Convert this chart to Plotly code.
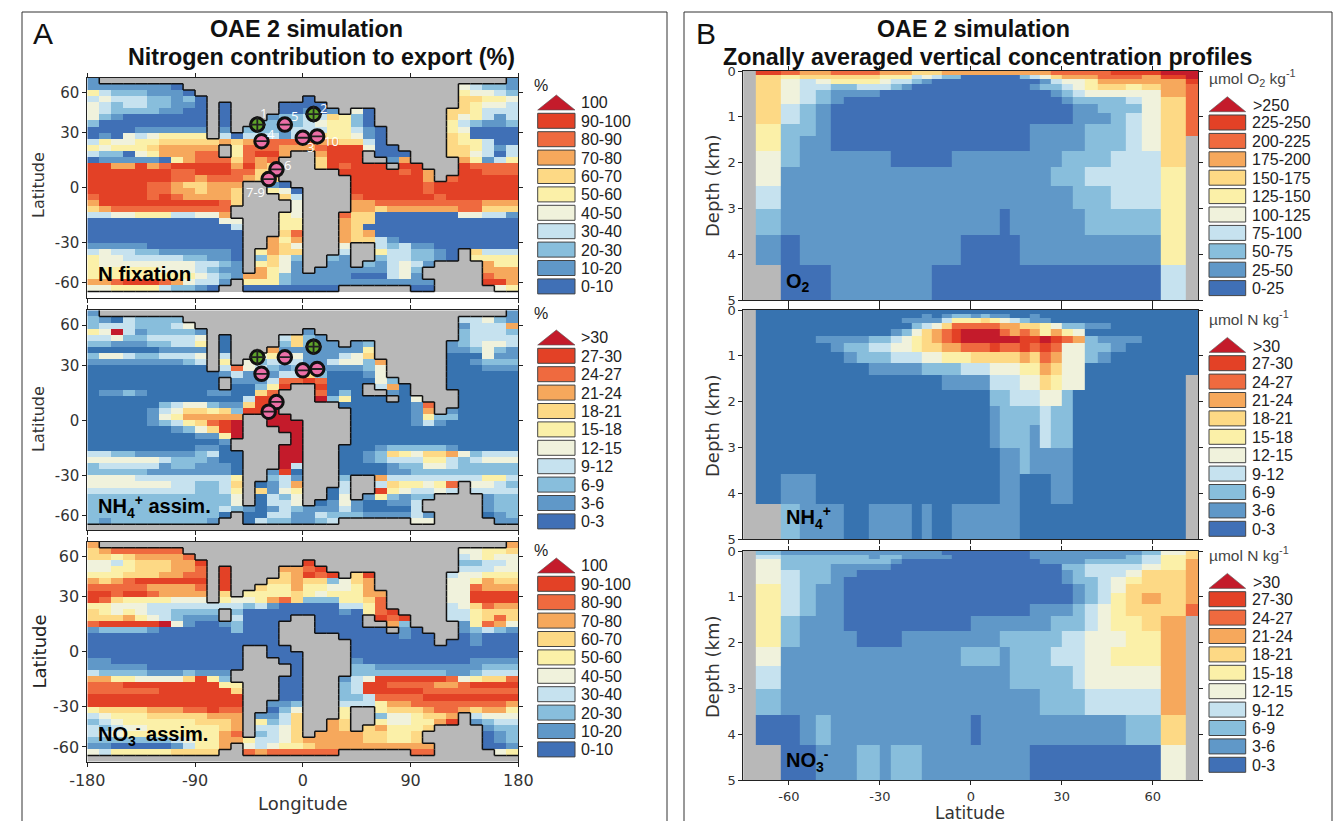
import numpy as np
import plotly.graph_objects as go

W, H = 1333, 821

CLASS_COLORS = ["#B8B8B8", "#4070B6", "#6098C8", "#88BEDC", "#C6E2EF", "#F0F2DC",
                "#FBF0A8", "#FDD985", "#F6A85C", "#EF6A3F", "#E34126", "#C41B2B"]
NH4_BLUE = "#3773B0"

LON_TICKS = [-180, -90, 0, 90, 180]
LAT_TICKS = [60, 30, 0, -30, -60]
PROFILE_LAT_TICKS = [-60, -30, 0, 30, 60]
DEPTH_TICKS = [0, 1, 2, 3, 4, 5]
DEPTH_EDGES_KM = [0, 0.0808, 0.1747, 0.2838, 0.4105, 0.5576, 0.7287, 0.9273, 1.158,
                  1.426, 1.738, 2.100, 2.520, 3.008, 3.576, 4.235, 5.0]

LABELS_PCT = ["0-10", "10-20", "20-30", "30-40", "40-50", "50-60", "60-70", "70-80", "80-90", "90-100", "100"]
LABELS_N = ["0-3", "3-6", "6-9", "9-12", "12-15", "15-18", "18-21", "21-24", "24-27", "27-30", ">30"]
LABELS_O2 = ["0-25", "25-50", "50-75", "75-100", "100-125", "125-150", "150-175", "175-200",
             "200-225", "225-250", ">250"]

# land cells per latitude row (north to south): inclusive longitude-cell runs
LAND_RUNS = [
    [(1, 34)], [(8, 30)], [(9, 30)], [(10, 17), (19, 30)],
    [(10, 10), (12, 15), (20, 30)], [(10, 10), (12, 15), (21, 21), (24, 29)],
    [(10, 10), (12, 14), (24, 29)], [(10, 10), (12, 13), (24, 29)],
    [(10, 10), (12, 12), (25, 29)], [(10, 10), (25, 29)], [(25, 29)],
    [(11, 11), (26, 29)], [(11, 11), (17, 18), (23, 23), (27, 29)],
    [(16, 18), (23, 24), (27, 30)], [(16, 18), (25, 25), (28, 30)],
    [(16, 20), (29, 30)], [(16, 21), (29, 29)], [(13, 14), (17, 21)],
    [(13, 14), (18, 21)], [(13, 15), (18, 21)], [(13, 16), (18, 21)],
    [(12, 16), (18, 21)], [(12, 15), (18, 20)], [(13, 15), (18, 20)],
    [(13, 15), (18, 20)], [(13, 15), (18, 20)], [(13, 14), (18, 20)],
    [(13, 14), (18, 20), (22, 23)], [(13, 13), (18, 20), (22, 23), (31, 31)],
    [(13, 13), (18, 19), (22, 23), (31, 31)], [(13, 13), (18, 19), (22, 22), (29, 32)],
    [(13, 13), (18, 18), (28, 32)], [(28, 32)], [(12, 12), (29, 32)],
    [(11, 12), (21, 26), (29, 33)], [(0, 35)],
]

# class codes of the ocean cells, west to east; A = top class
N_FIXATION = [
    "1 1", "11111110 43221", "532221110 54432", "3433322120 0 66554",
    "4323322110 0 0000 65443", "4322221100 0 00101 40 665333",
    "4210000000 0 122336520 645313", "2000000000 0 2222345520 532112",
    "0000111111 1 222133355310 540000", "0104345555 30333135655410 650000",
    "3544556666676778888776630 655300", "54555677777 58887778999400 665313",
    "32204577788 58997 7999 000 664303", "0111110578886878 6999 17 75135",
    "9977978999997976 698999 99 98888", "9999999889998866 99999897 99888",
    "9999999887888766 9999997 899999", "9999988766777 10 99999989999999",
    "9999988776776 540 99999989999999", "8999989877776 63 89999998999999",
    "7999999999986 4 77888888888777", "678888888888 4 77677777788666",
    "334455533447 54 866000000044331", "0000000000044 55 766000000000000",
    "0000000000003 55 760000000000000", "0000000000000 68 767000000000000",
    "0000000000000 757 766310000000000", "1111100000000 764 4 323110000000",
    "3433221111110 5766 3 5332210 6333", "5443333322110 2642 21 2332210 5555",
    "5444444443321 5641 11 213431 755", "5555554443211 7541 111111342 777",
    "5555555554321775211111000341 877",
    "778999874331 5552111111111111 997", "44555532210 00000000 00 45", "",
]
NH4_ASSIM = [
    "1 1", "21032222 33421", "233322234 13337", "54A3122221 1 23332",
    "3342233334 0 3621 23333", "2211122335 0 26211 12 123443",
    "0000001111 0 711111115 112421", "2443223334 3 4514111346 000411",
    "1111111123 5 423331134427 001222", "0000000000 38432121111124 000111",
    "0000000000013111336200014 000000", "00000000000 11138898000042 000000",
    "00000000000 00259 9000 370 000000", "0112100000110068 8020 10 00000",
    "0000000000000399 A25000 04 00000", "0000002344211699 00000018 00000",
    "000001346656299A 0000017 100000", "0000014577777 AA 00000152200000",
    "000001235689A AAA 00000131000000", "000000012469A AA 00000000000000",
    "000000000115A A 00000000000000", "000000000001 A 00000000000000",
    "000000000110 AA 000122222100000", "3322111112300 AA 001265466742333",
    "4444443222100 AA 001233355323444", "2333331221110 A3 000012244322222",
    "2222211111110 190 000011222222222", "4444333333335 231 2 733333333553",
    "4444444332236 0137 3 3655458 4432", "3333333332235 6145 03 9543343 3333",
    "2222222222224 0324 04 152122 122", "2222222222224 0334 014100113 122",
    "2222222222232101321113100003 122", "222222222220 0033113222111131 012",
    "21222222221 03221123 44 11", "",
]
NO3_ASSIM = [
    "7 7", "67888888 44556", "665677778 34544", "4435666779 9 22334",
    "4455666778 9 7789 33344", "5556667788 9 67989 69 344555",
    "7678999999 9 667662467 445766", "8888877778 9 6557554457 448777",
    "9989987777 6 555565455577 449999", "9865555444 54457862225568 449999",
    "5544433333333231000003358 346877", "65454332222 20000000010589 335666",
    "66675432111 30000 0000 989 335686", "899999A410012000 0000 72 15874",
    "1222210000002000 000000 10 12321", "0000000000000000 00000100 01000",
    "0000000000000000 0000000 001000", "0000000000000 00 00000000000000",
    "0000000000000 000 00000000000000", "1100000000000 00 10000000001111",
    "1111100000000 0 22111111111222", "322221112111 0 22222222112333",
    "775544446952 00 134999999845668", "8889999999955 00 239988887789999",
    "8888889999996 00 239999988888888", "9999999999999 00 223888899999999",
    "9999999999999 112 333577888888887", "5666677788988 024 5 566678876775",
    "3455566666777 1136 5 2445667 3444", "2345555556667 5236 76 5445579 1233",
    "3234455555567 3346 76 675556 122", "3345555555578 2346 777766556 012",
    "2222222345577533467777766556 012", "110000013557 4345567777777777 001",
    "43555556666 87888888 88 45", "",
]

# zonal sections: one string per depth level, one code per latitude band, "." = no ocean
O2_SECTION = [
    ".98778 888777 666777 777777 778888 8999AA", ".65666 666555 343220 000002 346777 88879A",
    ".64345 555433 210000 000000 013445 777779", ".64332 233321 000000 000000 122345 665678",
    ".64321 111000 000000 000000 001234 444478", ".64321 000000 000000 000000 000122 223468",
    ".63210 000000 000000 000000 000011 222468", ".63210 000000 000000 000000 000011 123468",
    ".52210 000000 000000 000000 111112 223468", ".52110 000000 000000 000000 111112 22346.",
    ".42111 111100 000011 111111 111222 23336.", ".41111 111111 111111 111111 112223 33335.",
    ".31111 111111 111111 111111 111122 23335.", ".21111 111111 111111 111011 111112 22225.",
    ".10111 111111 111110 000001 111111 11115.", "..0001 111111 110000 000000 000000 00003.",
]
NH4_SECTION = [
    ".00000 000000 000000 000000 000000 000000", ".00000 000000 010122 121100 100000 000000",
    ".00000 000001 111355 565432 110000 000000", ".00000 000000 234688 888776 654221 100000",
    ".00000 000012 46789A AAA878 757540 000000", ".00011 112234 56789A AAAAA9 9A9872 111000",
    ".00001 223344 566778 889889 898442 210000", ".00000 122233 344555 666667 687442 100000",
    ".00000 001111 122223 334445 576440 000000", ".00000 000000 000111 113334 465440 00000.",
    ".00000 000000 000000 002233 344200 00000.", ".00000 000000 000000 001222 232200 00000.",
    ".00000 000000 000000 001222 132200 00000.", ".00000 000000 000000 000112 111100 00000.",
    ".01100 000000 000000 000110 001100 00000.", "..2111 001111 010011 111110 000000 00000.",
]
NO3_SECTION = [
    ".21111 111111 111000 000000 111111 111246", ".32222 221221 111100 000000 111111 112356",
    ".42222 222210 000000 000000 011112 222357", ".42221 111100 000000 000000 000223 333457",
    ".43221 100000 000000 000000 000123 334667", ".43221 000000 000000 000000 000122 345667",
    ".53211 000000 000000 000000 000012 346667", ".53211 000000 000000 000000 000012 356767",
    ".53211 000000 000000 000000 111123 456668", ".52111 000000 000000 111111 112223 45567.",
    ".52111 100001 111111 111222 222334 44557.", ".41111 111111 111112 222122 223334 45557.",
    ".31111 111111 111111 111122 222234 44447.", ".21111 111111 111111 111111 122223 33337.",
    ".00121 111111 111111 011111 111111 11226.", "..0011 122122 211111 111111 000000 00004.",
]

# sediment-core sites
POS_SITE_LON = [-38, 9]
POS_SITE_LAT = [35, 42]
NEG_SITE_LON = [0, -34.5, -15, -22, -28.5, 12]
NEG_SITE_LAT = [27, 25, 35, 9.6, 4.5, 27.8]
SITE_LABELS = ["1", "2", "3", "4", "5", "6", "7-9", "10"]
SITE_LABEL_PX = [(263, 113), (323, 108), (310, 147), (271, 134), (294, 116), (287, 165), (255, 192), (331, 141)]

TEXT_FONT = "Liberation Sans"
AXIS_FONT = "DejaVu Sans"
INK = "#222222"


def px(x):
    return x / W


def py(y):
    return 1 - y / H


def code(ch):
    return np.nan if ch == "_" else (-1 if ch == "." else int(ch, 16))


def scale(colors):
    n = len(colors)
    out = []
    for i, c in enumerate(colors):
        out += [[i / n, c], [(i + 1) / n, c]]
    return out


def land_mask():
    m = np.zeros((36, 36), bool)
    for r, runs in enumerate(LAND_RUNS):
        for a, b in runs:
            m[r, a:b + 1] = True
    return m


LAND = land_mask()


def map_grid(rows, last_row_blank=False):
    z = np.full((36, 36), -1.0)
    for r, row in enumerate(rows):
        vals = [code(c) for c in row.replace(" ", "")]
        cells = np.where(~LAND[r])[0]
        for i, c in enumerate(cells):
            if vals:
                z[r, c] = vals[min(i, len(vals) - 1)]
    if last_row_blank:
        z[35, :] = np.nan
    return z


def section_grid(rows):
    return np.array([[code(c) for c in row.replace(" ", "")] for row in rows], float)


LON_EDGES = np.arange(-180, 181, 10)
SIN_EDGES = np.linspace(1, -1, 37)
BAND_EDGES = np.degrees(np.arcsin(np.arange(-18, 19) / 18))


def coast_segments():
    xs, ys = [], []
    for r in range(36):
        for c in range(36):
            if not LAND[r, c]:
                continue
            if c > 0 and not LAND[r, c - 1]:
                xs += [LON_EDGES[c], LON_EDGES[c], None]
                ys += [SIN_EDGES[r], SIN_EDGES[r + 1], None]
            if c < 35 and not LAND[r, c + 1]:
                xs += [LON_EDGES[c + 1], LON_EDGES[c + 1], None]
                ys += [SIN_EDGES[r], SIN_EDGES[r + 1], None]
            if r > 0 and not LAND[r - 1, c]:
                xs += [LON_EDGES[c], LON_EDGES[c + 1], None]
                ys += [SIN_EDGES[r], SIN_EDGES[r], None]
            if r < 35 and not LAND[r + 1, c]:
                xs += [LON_EDGES[c], LON_EDGES[c + 1], None]
                ys += [SIN_EDGES[r + 1], SIN_EDGES[r + 1], None]
    return xs, ys


fig = go.Figure()
layout = dict(width=W, height=H, margin=dict(l=0, r=0, t=0, b=0, pad=0), autosize=False,
              paper_bgcolor="white", plot_bgcolor="white", showlegend=False)
shapes, annotations = [], []


def note(x, y, text, size=16, color=INK, family=TEXT_FONT, xanchor="left", angle=0, bold=False):
    annotations.append(dict(x=px(x), y=py(y), xref="paper", yref="paper", text=f"<b>{text}</b>" if bold else text,
                            showarrow=False, xanchor=xanchor, yanchor="middle", textangle=angle,
                            font=dict(size=size, color=color, family=family)))


def axis_pair(i, x0, x1, y0, y1, xcfg, ycfg):
    common = dict(showline=True, linecolor="#222222", linewidth=1, mirror="ticks", ticks="outside",
                  ticklen=4, tickcolor="#222222", showgrid=False, zeroline=False, automargin=False)
    sx = "" if i == 1 else str(i)
    layout["xaxis" + sx] = {**common, "anchor": "y" + sx, "domain": [px(x0), px(x1)], **xcfg}
    layout["yaxis" + sx] = {**common, "anchor": "x" + sx, "domain": [py(y1), py(y0)], **ycfg}
    return "x" + sx, "y" + sx


def map_panel(i, rows, y0, y1, show_x, colors, blank_last=False, sites=False, tick_size=15):
    xcfg = dict(range=[-180, 180], tickvals=LON_TICKS, ticktext=[str(v) for v in LON_TICKS], showticklabels=show_x,
                tickfont=dict(size=tick_size, family=AXIS_FONT, color="#333333"))
    ycfg = dict(range=[-1, 1], tickvals=[float(np.sin(np.radians(v))) for v in LAT_TICKS],
                ticktext=[str(v) for v in LAT_TICKS], tickfont=dict(size=tick_size, family=AXIS_FONT, color="#333333"))
    xa, ya = axis_pair(i, 87.3, 518.3, y0, y1, xcfg, ycfg)
    z = map_grid(rows, blank_last)
    fig.add_trace(go.Heatmap(x=LON_EDGES, y=SIN_EDGES[::-1], z=z[::-1], xaxis=xa, yaxis=ya, zmin=-1.5, zmax=10.5,
                             colorscale=scale(colors), showscale=False, hoverinfo="skip"))
    cx, cy = coast_segments()
    fig.add_trace(go.Scatter(x=cx, y=cy, xaxis=xa, yaxis=ya, mode="lines", line=dict(color="#111111", width=1.5),
                             hoverinfo="skip"))
    if sites:
        for lon, lat, col, sym, sz in ((POS_SITE_LON, POS_SITE_LAT, "#5FA52A", "cross-thin", 12),
                                       (NEG_SITE_LON, NEG_SITE_LAT, "#EC6FA7", "line-ew", 8)):
            yy = [float(np.sin(np.radians(v))) for v in lat]
            fig.add_trace(go.Scatter(x=lon, y=yy, xaxis=xa, yaxis=ya, mode="markers", hoverinfo="skip",
                                     marker=dict(size=13.5, color=col, line=dict(color="#111111", width=3))))
            fig.add_trace(go.Scatter(x=lon, y=yy, xaxis=xa, yaxis=ya, mode="markers", hoverinfo="skip",
                                     marker=dict(size=sz, symbol=sym, color="#222222",
                                                 line=dict(color="#222222", width=1.8))))


def section_panel(i, rows, y0, y1, show_x, colors):
    xcfg = dict(range=[-75, 75], tickvals=PROFILE_LAT_TICKS, ticktext=[str(v) for v in PROFILE_LAT_TICKS],
                showticklabels=show_x, tickfont=dict(size=13, family=AXIS_FONT, color="#333333"))
    ycfg = dict(range=[5, 0], tickvals=DEPTH_TICKS, tickfont=dict(size=13, family=AXIS_FONT, color="#333333"))
    xa, ya = axis_pair(i, 743.3, 1198.3, y0, y1, xcfg, ycfg)
    fig.add_trace(go.Heatmap(x=BAND_EDGES, y=DEPTH_EDGES_KM, z=section_grid(rows), xaxis=xa, yaxis=ya,
                             zmin=-1.5, zmax=10.5, colorscale=scale(colors), showscale=False, hoverinfo="skip"))


def legend(x0, x1, tx, top, tri_text_y, tri_base, tri_apex, labels, tri_tx=None):
    colors = CLASS_COLORS[1:]
    mid = (x0 + x1) / 2
    shapes.append(dict(type="path", xref="paper", yref="paper", fillcolor=colors[10],
                       path=f"M {px(x0)} {py(tri_base)} L {px(mid)} {py(tri_apex)} L {px(x1)} {py(tri_base)} Z",
                       line=dict(color="#555555", width=0.6)))
    note(tri_tx if tri_tx else tx, tri_text_y, labels[10], size=16)
    for k in range(10):
        y = top + k * 18.4
        shapes.append(dict(type="rect", xref="paper", yref="paper", x0=px(x0), x1=px(x1), y0=py(y), y1=py(y + 15),
                           fillcolor=colors[9 - k], line=dict(color="#444444", width=1)))
        note(tx, y + 8, labels[9 - k], size=16)


map_panel(1, N_FIXATION, 77.7, 297.7, False, CLASS_COLORS, blank_last=True, sites=True)
map_panel(2, NH4_ASSIM, 310.3, 530.3, False, CLASS_COLORS[:1] + [NH4_BLUE] + CLASS_COLORS[2:], sites=True)
map_panel(3, NO3_ASSIM, 541.7, 761.7, True, CLASS_COLORS, tick_size=16)
section_panel(4, O2_SECTION, 71, 300, False, CLASS_COLORS)
section_panel(5, NH4_SECTION, 310, 539, False, CLASS_COLORS[:1] + [NH4_BLUE] + CLASS_COLORS[2:])
section_panel(6, NO3_SECTION, 551, 780, True, CLASS_COLORS)

for t, (x, y) in zip(SITE_LABELS, SITE_LABEL_PX):
    annotations.append(dict(x=px(x), y=py(y), xref="paper", yref="paper", text=t, showarrow=False,
                            xanchor="center", yanchor="middle",
                            font=dict(size=13, color="white", family="Open Sans")))

for dy, labels in ((0, LABELS_PCT), (235, LABELS_N), (463, LABELS_PCT)):
    legend(537.7, 575, 579.3, 113.3 + dy, 102.7 + dy, 110 + dy, 95 + dy, labels)
for y in (86, 314, 550):
    note(532, y, "%", size=16)
for dy, labels in ((0, LABELS_O2), (240.7, LABELS_N), (476.7, LABELS_N)):
    legend(1209, 1245.7, 1250, 115 + dy, 105.7 + dy, 111.7 + dy, 96.7 + dy, labels, tri_tx=1251)
note(1207, 78, "µmol O<sub>2</sub> kg<sup>-1</sup>", size=15.5, color="#444444")
note(1207, 318, "µmol N kg<sup>-1</sup>", size=15.5, color="#444444")
note(1207, 554, "µmol N kg<sup>-1</sup>", size=15.5, color="#444444")

note(306, 29, "OAE 2 simulation", size=23.3, color="#111111", xanchor="center", bold=True)
note(321, 57, "Nitrogen contribution to export (%)", size=23.3, color="#111111", xanchor="center", bold=True)
note(973, 29, "OAE 2 simulation", size=23.3, color="#111111", xanchor="center", bold=True)
note(988, 57, "Zonally averaged vertical concentration profiles", size=23.3, color="#111111", xanchor="center", bold=True)
note(31, 33, "A", size=30, color="#111111")
note(694, 33, "B", size=30, color="#111111")

note(38, 185, "Latitude", size=16, family=AXIS_FONT, color="#333333", xanchor="center", angle=-90)
note(38, 419, "Latitude", size=16, family=AXIS_FONT, color="#333333", xanchor="center", angle=-90)
note(38.5, 652, "Latitude", size=18, family=AXIS_FONT, color="#222222", xanchor="center", angle=-90)
note(303, 803, "Longitude", size=18, family=AXIS_FONT, color="#333333", xanchor="center")
for y in (185, 425, 666):
    note(712, y, "Depth (km)", size=18, family=AXIS_FONT, color="#333333", xanchor="center", angle=-90)
note(970, 813, "Latitude", size=17, family=AXIS_FONT, color="#333333", xanchor="center")

note(96, 273, "N fixation", size=20.5, color="#000000", bold=True)
note(96, 506, "NH<sub>4</sub><sup>+</sup> assim.", size=20, color="#000000", bold=True)
note(96, 734, "NO<sub>3</sub><sup>-</sup> assim.", size=20, color="#000000", bold=True)
note(784, 282, "O<sub>2</sub>", size=20, color="#000000", bold=True)
note(784, 517, "NH<sub>4</sub><sup>+</sup>", size=20, color="#000000", bold=True)
note(784, 760, "NO<sub>3</sub><sup>-</sup>", size=20, color="#000000", bold=True)

for a, b in ((22, 667), (684, 1332)):
    for x0, y0, x1, y1 in ((a, H, a, 12), (a, 12, b, 12), (b, 12, b, H)):
        shapes.append(dict(type="line", xref="paper", yref="paper", x0=px(x0), y0=py(y0), x1=px(x1), y1=py(y1),
                           line=dict(color="#333333", width=1)))

layout["shapes"] = shapes
layout["annotations"] = annotations
fig.update_layout(**layout)
fig.write_html("out.html", config=dict(displayModeBar=False),
               post_script="document.body.style.margin='0';document.documentElement.style.overflow='hidden';")
